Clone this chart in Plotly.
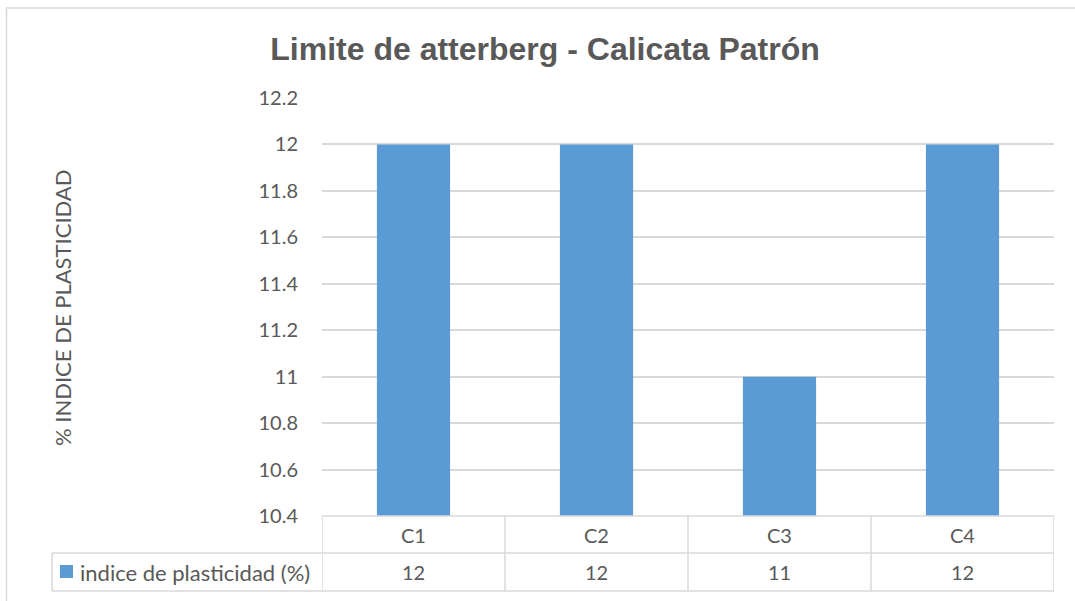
import plotly.graph_objects as go

# Datos
calicatas = ["C1", "C2", "C3", "C4"]
indice_plasticidad = [12, 12, 11, 12]
serie = "indice de plasticidad (%)"
y_ticks = [10.4, 10.6, 10.8, 11.0, 11.2, 11.4, 11.6, 11.8, 12.0, 12.2]
y_tick_text = ["10.4", "10.6", "10.8", "11", "11.2", "11.4", "11.6", "11.8", "12", "12.2"]

W, H = 1075, 601
ML, MR, MT, MB = 322, 21, 98, 85
PW, PH = W - ML - MR, H - MT - MB

BLUE = "#5b9bd5"
TXT = "#595959"
GRID = "#d9d9d9"
FONT = "Lato, 'Open Sans', sans-serif"


def px_x(px):
    return (px - ML) / PW


def px_y(py):
    return (H - MB - py) / PH


fig = go.Figure(
    go.Bar(
        x=calicatas,
        y=indice_plasticidad,
        marker=dict(color=BLUE, line=dict(width=0)),
        width=0.4,
        name=serie,
        showlegend=False,
    )
)

shapes = []
annotations = []

# Marco exterior del gráfico
shapes.append(dict(type="rect", xref="paper", yref="paper",
                   x0=px_x(6.5), x1=px_x(1090), y0=px_y(620), y1=px_y(8),
                   line=dict(color=GRID, width=1.5), fillcolor="rgba(0,0,0,0)", layer="below"))

# Tabla de datos bajo el eje
row1_top, row1_bot, row2_bot = 516, 553, 591
n = len(calicatas)
line_style = dict(color=GRID, width=1.5)
# horizontales
shapes.append(dict(type="line", xref="x", yref="paper", x0=-0.5, x1=n - 0.5,
                   y0=px_y(row1_top), y1=px_y(row1_top), line=line_style))
shapes.append(dict(type="line", xref="paper", yref="paper", x0=px_x(52), x1=1,
                   y0=px_y(row1_bot), y1=px_y(row1_bot), line=line_style))
shapes.append(dict(type="line", xref="paper", yref="paper", x0=px_x(52), x1=1,
                   y0=px_y(row2_bot), y1=px_y(row2_bot), line=line_style))
# verticales entre categorías
for i in range(n + 1):
    shapes.append(dict(type="line", xref="x", yref="paper", x0=i - 0.5, x1=i - 0.5,
                       y0=px_y(row1_top), y1=px_y(row2_bot), line=line_style))
# celda de la leyenda
shapes.append(dict(type="line", xref="paper", yref="paper", x0=px_x(52), x1=px_x(52),
                   y0=px_y(row1_bot), y1=px_y(row2_bot), line=line_style))
# clave de color de la serie
shapes.append(dict(type="rect", xref="paper", yref="paper",
                   x0=px_x(60), x1=px_x(73), y0=px_y(578), y1=px_y(565),
                   fillcolor=BLUE, line=dict(width=0)))

cell_font = dict(size=20, color=TXT, family=FONT)
for cat, val in zip(calicatas, indice_plasticidad):
    annotations.append(dict(x=cat, xref="x", y=px_y((row1_top + row1_bot) / 2), yref="paper",
                            xanchor="center", yanchor="middle",
                            text=cat, showarrow=False, font=cell_font))
    annotations.append(dict(x=cat, xref="x", y=px_y((row1_bot + row2_bot) / 2), yref="paper",
                            xanchor="center", yanchor="middle",
                            text=str(val), showarrow=False, font=cell_font))

annotations.append(dict(x=px_x(78), xref="paper", y=px_y((row1_bot + row2_bot) / 2), yref="paper",
                        xanchor="left", yanchor="middle", text=serie, showarrow=False,
                        font=dict(size=22, color=TXT, family=FONT)))

annotations.append(dict(x=px_x(62), xref="paper", y=px_y(308), yref="paper",
                        xanchor="center", yanchor="middle", text="% INDICE DE PLASTICIDAD",
                        textangle=-90, showarrow=False,
                        font=dict(size=22, color=TXT, family=FONT)))

fig.update_layout(
    width=W, height=H,
    margin=dict(l=ML, r=MR, t=MT, b=MB),
    paper_bgcolor="white", plot_bgcolor="white",
    title=dict(text="<b>Limite de atterberg - Calicata Patrón</b>",
               x=545 / W, xanchor="center", y=1 - 49 / H, yanchor="middle",
               font=dict(family="'Liberation Sans', Arial, sans-serif", size=32, color=TXT)),
    xaxis=dict(showticklabels=False, ticks="", showgrid=False, zeroline=False,
               showline=False, range=[-0.5, n - 0.5]),
    yaxis=dict(range=[10.4, 12.2], tickvals=y_ticks, ticktext=y_tick_text,
               showgrid=True, gridcolor=GRID, gridwidth=1.5, zeroline=False,
               showline=False, ticks="", ticklabelstandoff=23,
               tickfont=dict(size=20, color=TXT, family=FONT)),
    shapes=shapes,
    annotations=annotations,
    bargap=0.6,
)

fig.write_html("out.html")
